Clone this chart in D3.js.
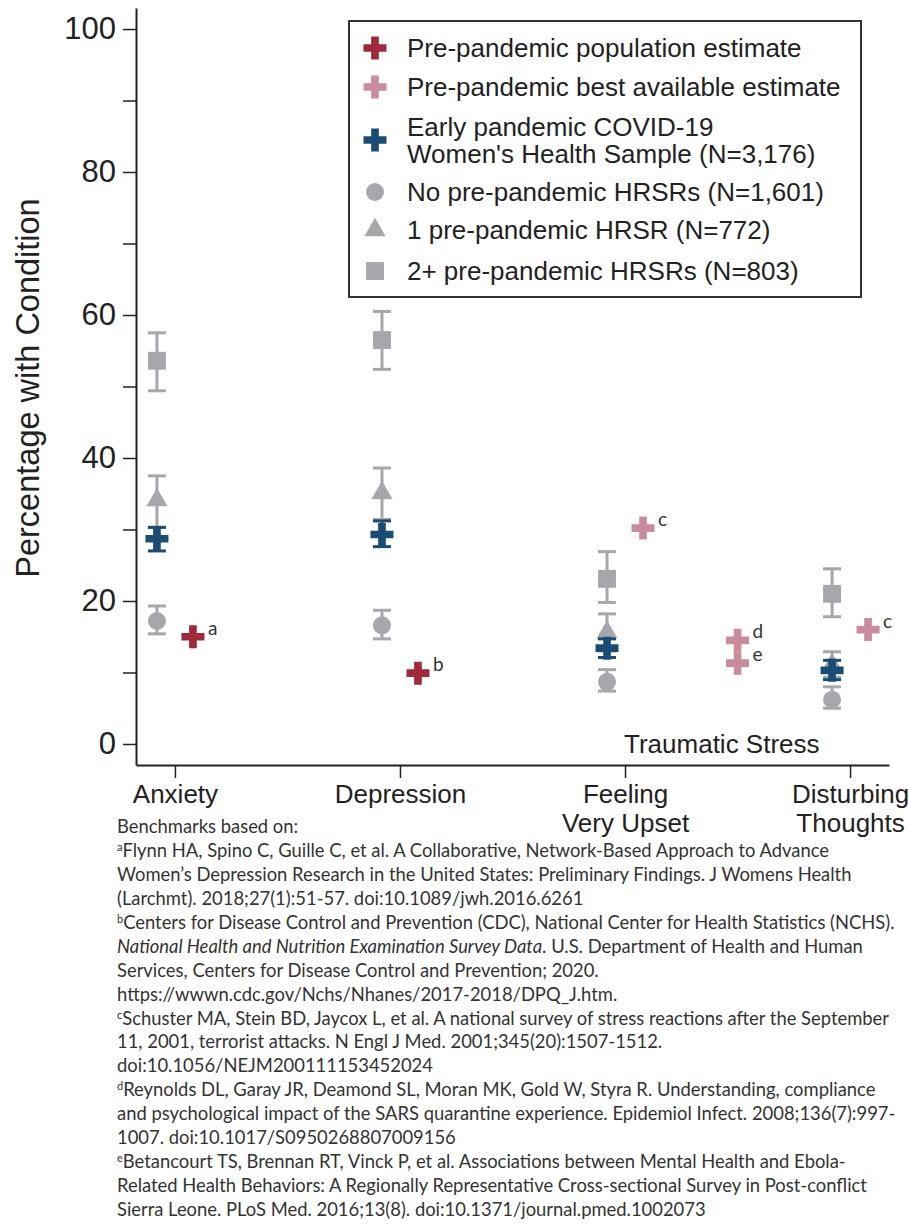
<!DOCTYPE html>
<html>
<head>
<meta charset="utf-8">
<script src="https://cdn.jsdelivr.net/npm/d3@7"></script>
<style>
  html, body { margin: 0; padding: 0; background: #fff; }
  svg { display: block; }
  .ax, .ax text { font-family: "Liberation Sans", Arial, sans-serif; fill: #222; }
  .note { font-family: Lato, "Noto Sans", sans-serif; fill: #333; }
</style>
</head>
<body>
<div id="chart"></div>
<script>
// categories on the x axis (x = 1..4)
const categories = [['Anxiety'], ['Depression'], ['Feeling', 'Very Upset'], ['Disturbing', 'Thoughts']];
const catPos = [1, 2, 3, 4];

// HRSR groups: point estimate, lower and upper CI
const noHrsr = [17.2, 16.6, 8.7, 6.2];
const noHrsrLo = [15.4, 14.7, 7.4, 5.0];
const noHrsrHi = [19.3, 18.7, 10.4, 8.0];

const oneHrsr = [34.1, 35.1, 15.6, 11.0];
const oneHrsrLo = [30.3, 31.4, 13.0, 9.3];
const oneHrsrHi = [37.5, 38.6, 18.2, 12.9];

const twoHrsr = [53.6, 56.5, 23.1, 21.0];
const twoHrsrLo = [49.4, 52.4, 19.8, 17.8];
const twoHrsrHi = [57.5, 60.5, 26.9, 24.5];

const covid = [28.7, 29.3, 13.4, 10.3];
const covidLo = [27.0, 27.6, 12.1, 9.0];
const covidHi = [30.3, 31.2, 14.7, 11.7];

// benchmarks
const popX = [1.08, 2.08];
const popVal = [15.0, 9.9];
const popRef = ['a', 'b'];

const bestX = [3.08, 3.5, 3.5, 4.08];
const bestVal = [30.2, 14.5, 11.3, 16.0];
const bestRef = ['c', 'd', 'e', 'c'];

const yMajor = [0, 20, 40, 60, 80, 100];
const yMinor = [10, 30, 50, 70, 90];

const legendLabels = [
  ['Pre-pandemic population estimate'],
  ['Pre-pandemic best available estimate'],
  ['Early pandemic COVID-19', "Women's Health Sample (N=3,176)"],
  ['No pre-pandemic HRSRs (N=1,601)'],
  ['1 pre-pandemic HRSR (N=772)'],
  ['2+ pre-pandemic HRSRs (N=803)']
];

// footnote lines: segments [text, style] (s = superscript, i = italic)
const notes = [
  [['Benchmarks based on:']],
  [['a', 's'], ['Flynn HA, Spino C, Guille C, et al. A Collaborative, Network-Based Approach to Advance']],
  [['Women’s Depression Research in the United States: Preliminary Findings. J Womens Health']],
  [['(Larchmt). 2018;27(1):51-57. doi:10.1089/jwh.2016.6261']],
  [['b', 's'], ['Centers for Disease Control and Prevention (CDC), National Center for Health Statistics (NCHS).']],
  [['National Health and Nutrition Examination Survey Data', 'i'], ['. U.S. Department of Health and Human']],
  [['Services, Centers for Disease Control and Prevention; 2020.']],
  [['https://wwwn.cdc.gov/Nchs/Nhanes/2017-2018/DPQ_J.htm.']],
  [['c', 's'], ['Schuster MA, Stein BD, Jaycox L, et al. A national survey of stress reactions after the September']],
  [['11, 2001, terrorist attacks. N Engl J Med. 2001;345(20):1507-1512.']],
  [['doi:10.1056/NEJM200111153452024']],
  [['d', 's'], ['Reynolds DL, Garay JR, Deamond SL, Moran MK, Gold W, Styra R. Understanding, compliance']],
  [['and psychological impact of the SARS quarantine experience. Epidemiol Infect. 2008;136(7):997-']],
  [['1007. doi:10.1017/S0950268807009156']],
  [['e', 's'], ['Betancourt TS, Brennan RT, Vinck P, et al. Associations between Mental Health and Ebola-']],
  [['Related Health Behaviors: A Regionally Representative Cross-sectional Survey in Post-conflict']],
  [['Sierra Leone. PLoS Med. 2016;13(8). doi:10.1371/journal.pmed.1002073']]
];

const W = 909, H = 1224;
const gray = '#a6a7ab', blue = '#1b4d74', red = '#9e2a3a', pink = '#c98c9c';

const svg = d3.select('#chart').append('svg')
  .attr('width', W).attr('height', H);
svg.append('rect').attr('width', W).attr('height', H).attr('fill', '#fff');

const x = d3.scaleLinear().domain([0.827, 4.173]).range([136, 889]);
const y = d3.scaleLinear().domain([-2.94, 102.94]).range([765, 8]);

// y axis
const yAxis = svg.append('g').attr('class', 'ax').attr('transform', 'translate(136,0)');
yAxis.call(d3.axisLeft(y).tickValues(yMajor).tickSize(13).tickPadding(7).tickSizeOuter(0));
yAxis.append('g').call(d3.axisLeft(y).tickValues(yMinor).tickSize(13).tickFormat('').tickSizeOuter(0));
yAxis.selectAll('path.domain').attr('stroke', '#222').attr('stroke-width', 2);
yAxis.selectAll('.tick line').attr('stroke', '#222').attr('stroke-width', 1.5);
yAxis.selectAll('.tick text').style('font-size', '31px').attr('fill', '#222');
yAxis.selectAll('g > g > path.domain').remove();

// x axis
const xAxis = svg.append('g').attr('class', 'ax').attr('transform', 'translate(0,765)');
xAxis.call(d3.axisBottom(x).tickValues(catPos).tickSize(13).tickFormat('').tickSizeOuter(0));
xAxis.selectAll('path.domain').attr('stroke', '#222').attr('stroke-width', 2);
xAxis.selectAll('.tick line').attr('stroke', '#222').attr('stroke-width', 1.5);
xAxis.selectAll('.tick').each(function(d, i) {
  const t = d3.select(this).append('text')
    .attr('text-anchor', 'middle')
    .attr('fill', '#222')
    .style('font-size', '26px');
  categories[i].forEach((line, j) => {
    t.append('tspan').attr('x', 0).attr('y', 38 + j * 29).text(line);
  });
});

svg.append('text').attr('class', 'ax')
  .attr('transform', 'translate(39,388) rotate(-90)')
  .attr('text-anchor', 'middle')
  .style('font-size', '32.5px')
  .text('Percentage with Condition');

svg.append('text').attr('class', 'ax')
  .attr('x', x(3.43)).attr('y', 753)
  .attr('text-anchor', 'middle')
  .style('font-size', '26px')
  .text('Traumatic Stress');

// symbols
const sym = {
  cross: d3.symbol().type(d3.symbolCross).size(294)(),
  circle: d3.symbol().type(d3.symbolCircle).size(254)(),
  triangle: d3.symbol().type(d3.symbolTriangle).size(195)(),
  square: d3.symbol().type(d3.symbolSquare).size(320)()
};

const plot = svg.append('g');
const off = -0.08;

function drawGroup(vals, lo, hi, shape, color) {
  const g = plot.append('g');
  const rows = catPos.map((c, i) => ({ c: c + off, v: vals[i], lo: lo[i], hi: hi[i] }));
  const cap = 9;
  g.selectAll('line.bar').data(rows).enter().append('line')
    .attr('x1', d => x(d.c)).attr('x2', d => x(d.c))
    .attr('y1', d => y(d.lo)).attr('y2', d => y(d.hi))
    .attr('stroke', color).attr('stroke-width', 3);
  ['lo', 'hi'].forEach(k => {
    g.selectAll('line.cap' + k).data(rows).enter().append('line')
      .attr('x1', d => x(d.c) - cap).attr('x2', d => x(d.c) + cap)
      .attr('y1', d => y(d[k])).attr('y2', d => y(d[k]))
      .attr('stroke', color).attr('stroke-width', 3);
  });
  g.selectAll('path').data(rows).enter().append('path')
    .attr('d', sym[shape])
    .attr('transform', d => 'translate(' + x(d.c) + ',' + y(d.v) + ')')
    .attr('fill', color);
}

drawGroup(twoHrsr, twoHrsrLo, twoHrsrHi, 'square', gray);
drawGroup(oneHrsr, oneHrsrLo, oneHrsrHi, 'triangle', gray);
drawGroup(noHrsr, noHrsrLo, noHrsrHi, 'circle', gray);
drawGroup(covid, covidLo, covidHi, 'cross', blue);

function drawBench(xs, vals, refs, color) {
  const rows = xs.map((c, i) => ({ c: c, v: vals[i], r: refs[i] }));
  const g = plot.append('g');
  g.selectAll('path').data(rows).enter().append('path')
    .attr('d', sym.cross)
    .attr('transform', d => 'translate(' + x(d.c) + ',' + y(d.v) + ')')
    .attr('fill', color);
  g.selectAll('text').data(rows).enter().append('text')
    .attr('class', 'note')
    .attr('x', d => x(d.c) + 15).attr('y', d => y(d.v) - 2)
    .style('font-size', '19px')
    .text(d => d.r);
}
drawBench(popX, popVal, popRef, red);
drawBench(bestX, bestVal, bestRef, pink);

// legend
const leg = svg.append('g').attr('class', 'ax');
leg.append('rect')
  .attr('x', 349).attr('y', 21).attr('width', 512).attr('height', 276)
  .attr('fill', '#fff').attr('stroke', '#333').attr('stroke-width', 2);
const legRowY = [48, 87, 140, 192, 230, 271];
const legSym = [['cross', red], ['cross', pink], ['cross', blue], ['circle', gray], ['triangle', gray], ['square', gray]];
legendLabels.forEach((lines, i) => {
  leg.append('path')
    .attr('d', sym[legSym[i][0]])
    .attr('transform', 'translate(375,' + legRowY[i] + ')')
    .attr('fill', legSym[i][1]);
  lines.forEach((line, j) => {
    leg.append('text').style('font-size', '26px')
      .attr('x', 407)
      .attr('y', legRowY[i] + 9 + (j - (lines.length - 1) / 2) * 27)
      .text(line);
  });
});

// footnotes
const nt = svg.append('g');
notes.forEach((segs, i) => {
  const t = nt.append('text').attr('class', 'note')
    .attr('x', 117).attr('y', 833 + i * 23.94)
    .style('font-size', '18.4px');
  segs.forEach(s => {
    const sp = t.append('tspan').text(s[0]);
    if (s[1] === 's') sp.attr('baseline-shift', 'super').style('font-size', '11px');
    if (s[1] === 'i') sp.style('font-style', 'italic');
  });
});
</script>
</body>
</html>
